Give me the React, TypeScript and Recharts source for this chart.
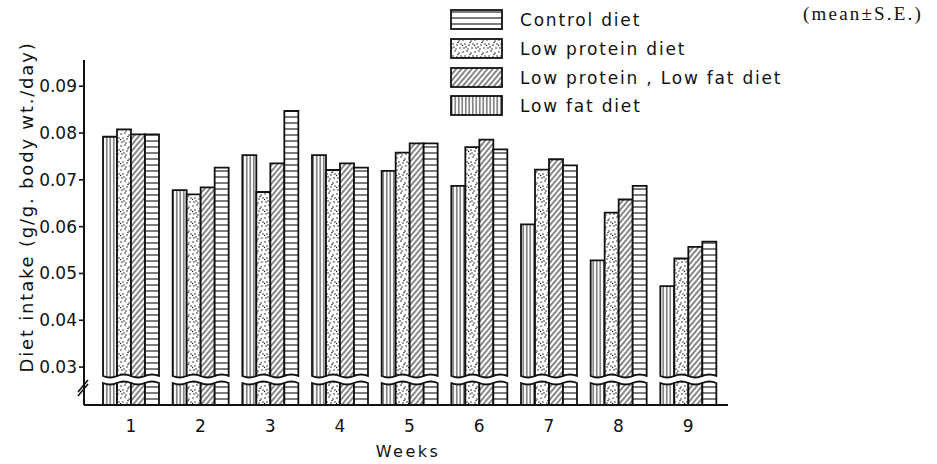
import * as React from "react";
import { BarChart, Bar, XAxis, YAxis, ReferenceArea } from "recharts";

// weekly diet intake, g/g body wt./day
const weeks = ["1", "2", "3", "4", "5", "6", "7", "8", "9"];
const lowFat = [0.0792, 0.0678, 0.0753, 0.0753, 0.0719, 0.0687, 0.0605, 0.0528, 0.0473];
const lowProtein = [0.0808, 0.0669, 0.0674, 0.0721, 0.0758, 0.077, 0.0722, 0.063, 0.0532];
const lowProteinLowFat = [0.0797, 0.0684, 0.0735, 0.0735, 0.0778, 0.0786, 0.0744, 0.0658, 0.0557];
const control = [0.0797, 0.0726, 0.0847, 0.0726, 0.0778, 0.0765, 0.0731, 0.0687, 0.0568];
const yTicks = [0.03, 0.04, 0.05, 0.06, 0.07, 0.08, 0.09];

const DOMAIN: [number, number] = [0.0219, 0.0956];
const BREAK_HI = 0.0281; // bottom of the upper piece
const BREAK_LO = 0.0266; // top of the stub

const INK = "#111";
const FONT = "'DejaVu Sans', sans-serif";

const data = weeks.map((w, i) => ({
  week: w,
  lowFat: lowFat[i],
  lowProtein: lowProtein[i],
  lowProteinLowFat: lowProteinLowFat[i],
  control: control[i],
}));

const legendItems = [
  { label: "Control diet", pattern: "pHoriz" },
  { label: "Low protein diet", pattern: "pDots" },
  { label: "Low protein , Low fat diet", pattern: "pHatch" },
  { label: "Low fat diet", pattern: "pVert" },
];

function Patterns() {
  // dot positions are only the texture of the stipple fill
  const dots = [
    [1, 2], [5, 1], [9, 3], [3, 6], [7, 7], [11, 6], [2, 10], [6, 11], [10, 10], [8, 4.5], [4, 9], [0.5, 7.5],
  ];
  return (
    <svg width={0} height={0} style={{ position: "absolute" }}>
      <defs>
        <pattern id="pVert" width={3.5} height={10} patternUnits="userSpaceOnUse">
          <rect width={3.5} height={10} fill="#fff" />
          <line x1={1.75} y1={0} x2={1.75} y2={10} stroke={INK} strokeWidth={0.9} />
        </pattern>
        <pattern id="pHoriz" width={10} height={6} patternUnits="userSpaceOnUse">
          <rect width={10} height={6} fill="#fff" />
          <line x1={0} y1={3} x2={10} y2={3} stroke={INK} strokeWidth={1.1} />
        </pattern>
        <pattern id="pHatch" width={4} height={4} patternUnits="userSpaceOnUse" patternTransform="rotate(40)">
          <rect width={4} height={4} fill="#fff" />
          <line x1={2} y1={0} x2={2} y2={4} stroke={INK} strokeWidth={1} />
        </pattern>
        <pattern id="pDots" width={12} height={12} patternUnits="userSpaceOnUse">
          <rect width={12} height={12} fill="#fff" />
          {dots.map(([cx, cy], i) => (
            <circle key={i} cx={cx} cy={cy} r={0.75} fill={INK} />
          ))}
        </pattern>
      </defs>
    </svg>
  );
}

function BrokenBar(props: any) {
  const { x, y, width, height, fill, background, wave } = props;
  if (!width || height == null) return null;
  const bg = background && background.height ? background : { y: 60, height: 345 };
  const toY = (v: number) => bg.y + ((DOMAIN[1] - v) / (DOMAIN[1] - DOMAIN[0])) * bg.height;
  const base = y + height;
  const yHi = toY(BREAK_HI);
  const yLo = toY(BREAK_LO);
  const r = x + width;
  const m = x + width / 2;
  const upper = `M${x},${y} L${r},${y} L${r},${yHi} Q${m},${yHi + 3 * wave} ${x},${yHi} Z`;
  const lower = `M${x},${yLo} Q${m},${yLo + 3 * wave} ${r},${yLo} L${r},${base} L${x},${base} Z`;
  return (
    <g>
      <path d={upper} fill={fill} stroke={INK} strokeWidth={1.8} />
      <path d={lower} fill={fill} stroke={INK} strokeWidth={1.8} />
    </g>
  );
}

// the break is drawn on the y axis line, left of the x padding
function AxisBreak(props: any) {
  const { x, y, height } = props;
  const ax = x - 12;
  const cy = y + height + 3;
  return (
    <g>
      <line x1={ax - 6} y1={cy + 6} x2={ax + 4} y2={cy - 6} stroke={INK} strokeWidth={1.6} />
      <line x1={ax - 6} y1={cy + 10} x2={ax + 4} y2={cy - 2} stroke={INK} strokeWidth={1.6} />
    </g>
  );
}

function YLabel() {
  return (
    <text
      x={26}
      y={207}
      transform="rotate(-90 26 207)"
      textAnchor="middle"
      dominantBaseline="central"
      fill={INK}
      style={{ fontFamily: FONT, fontSize: 18, letterSpacing: 1.8 }}
    >
      Diet intake (g/g. body wt./day)
    </text>
  );
}

function XLabel() {
  return (
    <text
      x={408}
      y={451}
      textAnchor="middle"
      dominantBaseline="central"
      fill={INK}
      style={{ fontFamily: FONT, fontSize: 16, letterSpacing: 2.5 }}
    >
      Weeks
    </text>
  );
}

function LegendBox() {
  return (
    <div style={{ position: "absolute", left: 450, top: 6, fontFamily: FONT, color: INK }}>
      {legendItems.map((it) => (
        <div key={it.label} style={{ display: "flex", alignItems: "center", height: 28.7 }}>
          <svg width={54} height={22} style={{ display: "block" }}>
            <rect x={1} y={1} width={51} height={19} fill={`url(#${it.pattern})`} stroke={INK} strokeWidth={1.8} />
          </svg>
          <span style={{ marginLeft: 16, fontSize: 17, letterSpacing: 1.8, whiteSpace: "nowrap" }}>{it.label}</span>
        </div>
      ))}
    </div>
  );
}

const series = [
  { key: "lowFat", pattern: "pVert", wave: 1 },
  { key: "lowProtein", pattern: "pDots", wave: -1 },
  { key: "lowProteinLowFat", pattern: "pHatch", wave: 1 },
  { key: "control", pattern: "pHoriz", wave: -1 },
];

export default function App() {
  return (
    <div style={{ position: "absolute", left: 0, top: 0, width: 937, height: 464, background: "#fff" }}>
      <Patterns />
      <BarChart
        width={937}
        height={464}
        data={data}
        margin={{ top: 60, right: 209, bottom: 29, left: 0 }}
        barCategoryGap={7}
        barGap={0}
      >
        <XAxis
          dataKey="week"
          height={30}
          padding={{ left: 12, right: 5 }}
          tickLine={false}
          axisLine={{ stroke: INK, strokeWidth: 2 }}
          tick={{ fill: INK, fontSize: 17, fontFamily: FONT }}
          tickMargin={9}
          label={<XLabel />}
        />
        <YAxis
          width={84}
          type="number"
          domain={DOMAIN}
          allowDataOverflow
          ticks={yTicks}
          tickFormatter={(v: number) => v.toFixed(2)}
          tickSize={5}
          tickMargin={2}
          tickLine={{ stroke: INK, strokeWidth: 1.6 }}
          axisLine={{ stroke: INK, strokeWidth: 2 }}
          tick={{ fill: INK, fontSize: 17, fontFamily: FONT }}
          label={<YLabel />}
        />
        {series.map((s) => (
          <Bar
            key={s.key}
            dataKey={s.key}
            fill={`url(#${s.pattern})`}
            isAnimationActive={false}
            shape={(p: any) => <BrokenBar {...p} wave={s.wave} />}
          />
        ))}
        <ReferenceArea y1={BREAK_LO} y2={BREAK_HI} ifOverflow="visible" shape={<AxisBreak />} />
      </BarChart>
      <LegendBox />
      <div
        style={{
          position: "absolute",
          left: 803,
          top: 3,
          fontFamily: "'Liberation Serif', serif",
          fontSize: 19,
          letterSpacing: 2.2,
          color: INK,
        }}
      >
        (mean±S.E.)
      </div>
    </div>
  );
}
